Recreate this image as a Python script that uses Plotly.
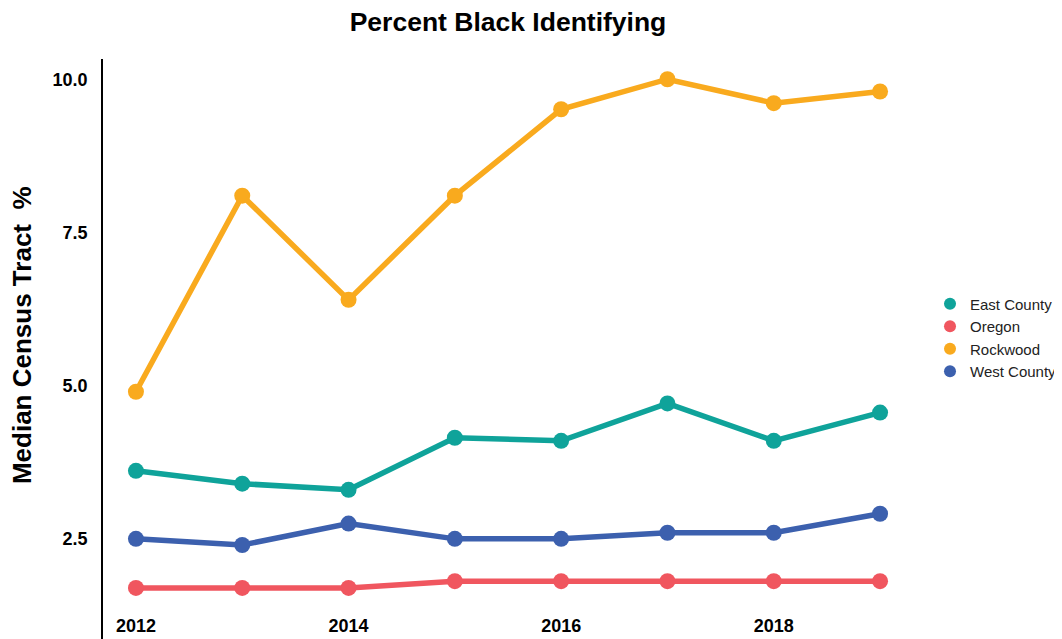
import plotly.graph_objects as go

anos = [2012, 2013, 2014, 2015, 2016, 2017, 2018, 2019]

east_county = [3.61, 3.40, 3.30, 4.15, 4.10, 4.71, 4.10, 4.56]
oregon = [1.70, 1.70, 1.70, 1.81, 1.81, 1.81, 1.81, 1.81]
rockwood = [4.90, 8.10, 6.40, 8.10, 9.51, 10.0, 9.61, 9.80]
west_county = [2.50, 2.40, 2.75, 2.50, 2.50, 2.60, 2.60, 2.91]

series = [
    ("East County", east_county, "#0fa39a"),
    ("Oregon", oregon, "#f0565f"),
    ("Rockwood", rockwood, "#f9aa1e"),
    ("West County", west_county, "#3c60ae"),
]

anos_ticks = [2012, 2014, 2016, 2018]
y_ticks = [2.5, 5.0, 7.5, 10.0]

fonte = "Liberation Sans, Arial, sans-serif"

fig = go.Figure()

for nome, valores, cor in series:
    fig.add_trace(go.Scatter(
        x=anos, y=valores, name=nome, mode="lines+markers",
        line=dict(color=cor, width=5.5),
        marker=dict(color=cor, size=16),
        showlegend=False,
    ))

# entradas da legenda so com o circulo
for nome, valores, cor in series:
    fig.add_trace(go.Scatter(
        x=[None], y=[None], name=nome, mode="markers",
        marker=dict(color=cor, size=18),
        showlegend=True,
    ))

fig.update_layout(
    width=1062, height=631,
    margin=dict(l=95, r=157, t=51, b=0, autoexpand=False),
    plot_bgcolor="white", paper_bgcolor="white",
    font=dict(family=fonte, color="#000000"),
    title=dict(text="<b>Percent Black Identifying</b>", x=0.5, xref="paper",
               y=0.978, yanchor="middle", font=dict(size=26.5, color="#000000")),
    legend=dict(x=1.021, y=0.52, yanchor="middle", xanchor="left",
                font=dict(size=15, color="#222222"), tracegroupgap=1,
                itemsizing="constant"),
)

# titulo do eixo y como anotacao para posicionar melhor
fig.add_annotation(
    text="<b>Median Census Tract  %</b>", textangle=-90,
    xref="paper", yref="paper", x=-0.1, y=0.524,
    xanchor="center", yanchor="middle", showarrow=False,
    font=dict(size=26, family=fonte, color="#000000"),
)

fig.update_xaxes(
    range=[2011.69, 2019.31], tickvals=anos_ticks,
    ticktext=[f"<b>{a}</b>" for a in anos_ticks],
    ticklabelposition="inside", showgrid=False, zeroline=False, showline=False,
    tickfont=dict(size=18, family=fonte, color="#000000"), ticks="",
    automargin=False,
)

fig.update_yaxes(
    range=[0.866, 10.33], tickvals=y_ticks,
    ticktext=[f"<b>{v:.1f}</b>" for v in y_ticks],
    showgrid=False, zeroline=False, showline=True, linecolor="#000000",
    linewidth=1.5, ticks="", ticklabelstandoff=10, automargin=False,
    tickfont=dict(size=18, family=fonte, color="#000000"),
)

fig.write_html("out.html")
